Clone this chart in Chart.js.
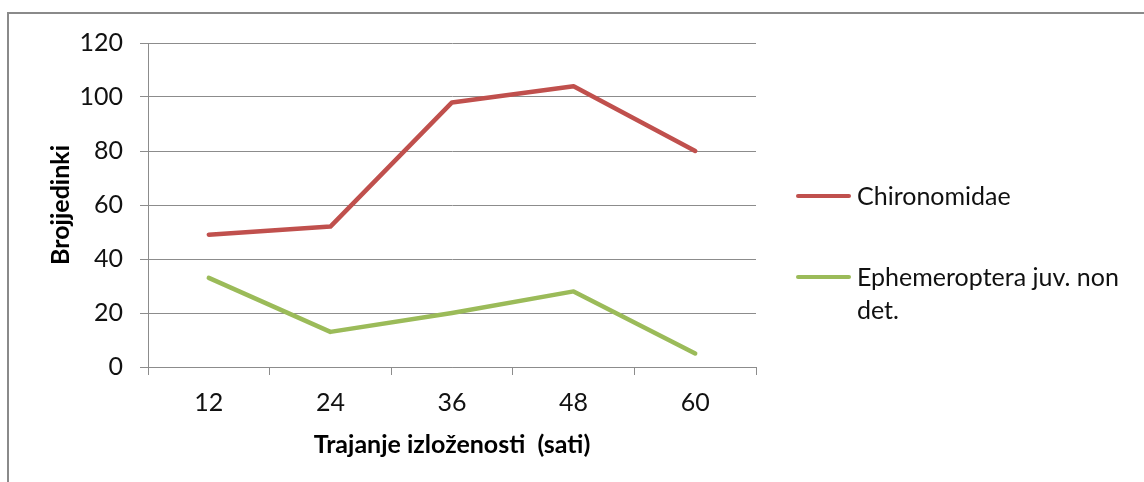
<!DOCTYPE html>
<html>
<head>
<meta charset="utf-8">
<script src="https://cdn.jsdelivr.net/npm/chart.js@4"></script>
<style>
  html, body { margin: 0; padding: 0; background: #fff; overflow: hidden; }
  #wrap { position: relative; width: 1144px; height: 482px; }
  #frame { position: absolute; left: 7px; top: 12px; width: 1200px; height: 600px;
           border-top: 2px solid #8a8a8a; border-left: 2px solid #8a8a8a; }
  canvas { position: absolute; left: 0; top: 0; }
  .leg { position: absolute; font-family: Lato, "Open Sans", sans-serif; font-size: 25px; color: #111; line-height: 33px; white-space: nowrap; }
  .sw { position: absolute; height: 4px; width: 55px; border-radius: 2px; }
</style>
</head>
<body>
<div id="wrap">
  <div id="frame"></div>
  <canvas id="c" width="1144" height="482"></canvas>
  <div class="sw" style="left:796px; top:194px; background:#C0504D;"></div>
  <div class="leg" style="left:857px; top:179px;">Chironomidae</div>
  <div class="sw" style="left:796px; top:275px; background:#9BBB59;"></div>
  <div class="leg" style="left:857px; top:260px;">Ephemeroptera juv. non<br>det.</div>
</div>
<script>
const categories = ["12", "24", "36", "48", "60"];
const chironomidae = [49, 52, 98, 104, 80];
const ephemeroptera = [33, 13, 20, 28, 5];
const seriesNames = ["Chironomidae", "Ephemeroptera juv. non det."];
const yTitle = "Brojjedinki";
const xTitle = "Trajanje izloženosti  (sati)";

const FONT = "Lato, 'Open Sans', sans-serif";
const GRID = "#8c8c8c";

new Chart(document.getElementById("c"), {
  type: "line",
  data: {
    labels: categories,
    datasets: [
      { label: seriesNames[0], data: chironomidae, borderColor: "#C0504D", backgroundColor: "#C0504D",
        borderWidth: 4.5, pointRadius: 0, tension: 0, borderCapStyle: "round", borderJoinStyle: "round" },
      { label: seriesNames[1], data: ephemeroptera, borderColor: "#9BBB59", backgroundColor: "#9BBB59",
        borderWidth: 4.5, pointRadius: 0, tension: 0, borderCapStyle: "round", borderJoinStyle: "round" }
    ]
  },
  options: {
    responsive: false,
    animation: false,
    layout: { padding: { left: 0, top: 43, right: 388, bottom: 0 } },
    plugins: { legend: { display: false }, tooltip: { enabled: false } },
    scales: {
      x: {
        type: "category",
        offset: true,
        grid: { display: true, drawOnChartArea: false, drawTicks: true, tickLength: 8, color: GRID, offset: true },
        border: { display: true, color: GRID, width: 1 },
        ticks: { color: "#111", font: { family: FONT, size: 25 }, padding: 13, maxRotation: 0 },
        title: { display: true, text: xTitle, color: "#000", font: { family: FONT, size: 25, weight: "bold" },
                 padding: { top: 0, bottom: 22 } },
        afterFit: (s) => { s.height = 115; }
      },
      y: {
        min: 0, max: 120,
        ticks: { stepSize: 20, color: "#111", font: { family: FONT, size: 25 }, padding: 17 },
        grid: { color: GRID, lineWidth: 1, tickLength: 8, drawTicks: true },
        border: { display: true, color: GRID, width: 1 },
        title: { display: true, text: yTitle, color: "#000", font: { family: FONT, size: 25, weight: "bold" },
                 padding: { top: 46, bottom: 0 } },
        afterFit: (s) => { s.width = 148; }
      }
    }
  }
});
</script>
</body>
</html>
